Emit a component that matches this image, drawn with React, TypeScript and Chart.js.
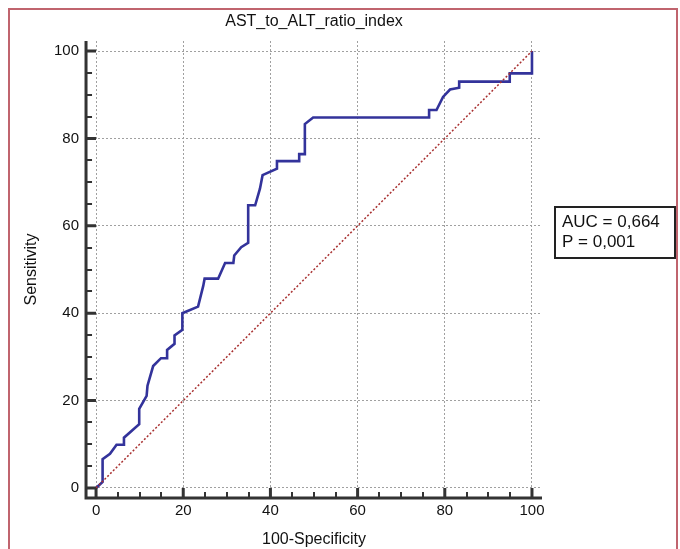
import React, { useEffect, useRef } from "react";
import { Chart, registerables } from "chart.js";

Chart.register(...registerables);

const chartTitle = "AST_to_ALT_ratio_index";
const xAxisTitle = "100-Specificity";
const yAxisTitle = "Sensitivity";
const tickValues = [0, 20, 40, 60, 80, 100];
const minorTickValues = [5, 10, 15, 25, 30, 35, 45, 50, 55, 65, 70, 75, 85, 90, 95];
const rocX = [0, 1.5, 1.5, 3.2, 4.7, 6.4, 6.4, 9.9, 9.9, 11.6, 11.8, 13.1, 14.9, 16.3, 16.3, 18.0, 18.0, 19.8, 19.8, 23.4, 24.6, 24.9, 28.0, 29.6, 31.5, 31.7, 33.3, 34.9, 34.9, 36.5, 37.6, 38.2, 41.5, 41.5, 46.6, 46.6, 47.9, 47.9, 49.8, 76.4, 76.4, 78.1, 79.6, 81.2, 83.3, 83.3, 94.9, 94.9, 100, 100];
const rocY = [0, 1.4, 6.6, 7.8, 9.9, 9.9, 11.5, 14.6, 18.1, 21.1, 23.4, 27.9, 29.7, 29.7, 31.6, 33.0, 34.9, 36.2, 40.0, 41.5, 46.3, 47.9, 47.9, 51.5, 51.5, 53.2, 55.1, 56.1, 64.7, 64.7, 68.5, 71.6, 73.1, 74.8, 74.8, 76.4, 76.4, 83.3, 84.8, 84.8, 86.5, 86.5, 89.5, 91.2, 91.6, 93.0, 93.0, 94.9, 94.9, 100];
const diagX = [0, 100];
const diagY = [0, 100];
const statLines = ["AUC = 0,664", "P = 0,001"];

const FONT = "'Liberation Sans', Arial, sans-serif";

const decorPlugin = {
  id: "decor",
  beforeDraw(chart: any) {
    const ctx = chart.ctx;
    ctx.save();
    ctx.strokeStyle = "#c0646e";
    ctx.lineWidth = 2;
    ctx.beginPath();
    ctx.moveTo(9, 560);
    ctx.lineTo(9, 9);
    ctx.lineTo(677, 9);
    ctx.lineTo(677, 560);
    ctx.stroke();
    ctx.restore();
  },
  afterDraw(chart: any) {
    const ctx = chart.ctx;
    const area = chart.chartArea;
    const xs = chart.scales.x;
    const ys = chart.scales.y;
    ctx.save();
    ctx.strokeStyle = "#333333";
    ctx.lineCap = "butt";
    // axis lines
    ctx.lineWidth = 3;
    ctx.beginPath();
    ctx.moveTo(area.left, area.top);
    ctx.lineTo(area.left, area.bottom + 1.5);
    ctx.moveTo(area.left - 1.5, area.bottom);
    ctx.lineTo(area.right, area.bottom);
    ctx.stroke();
    // major ticks
    ctx.lineWidth = 3;
    ctx.beginPath();
    tickValues.forEach((v) => {
      const px = xs.getPixelForValue(v);
      ctx.moveTo(px, area.bottom);
      ctx.lineTo(px, area.bottom - 10);
      const py = ys.getPixelForValue(v);
      ctx.moveTo(area.left, py);
      ctx.lineTo(area.left + 10, py);
    });
    ctx.stroke();
    // minor ticks
    ctx.lineWidth = 2;
    ctx.beginPath();
    minorTickValues.forEach((v) => {
      const px = Math.round(xs.getPixelForValue(v));
      ctx.moveTo(px, area.bottom);
      ctx.lineTo(px, area.bottom - 6);
      const py = Math.round(ys.getPixelForValue(v));
      ctx.moveTo(area.left, py);
      ctx.lineTo(area.left + 6, py);
    });
    ctx.stroke();
    // stats box
    ctx.lineWidth = 2;
    ctx.strokeStyle = "#222222";
    ctx.strokeRect(555, 207, 120, 51);
    ctx.fillStyle = "#111111";
    ctx.font = `17px ${FONT}`;
    ctx.textBaseline = "middle";
    ctx.textAlign = "left";
    ctx.fillText(statLines[0], 562, 222);
    ctx.fillText(statLines[1], 562, 242);
    ctx.restore();
  },
};

export default function App() {
  const canvasRef = useRef<HTMLCanvasElement | null>(null);

  useEffect(() => {
    const canvas = canvasRef.current;
    if (!canvas) return;
    const rocData = rocX.map((x, i) => ({ x, y: rocY[i] }));
    const diagData = diagX.map((x, i) => ({ x, y: diagY[i] }));
    const setTicks = (scale: any) => {
      scale.ticks = tickValues.map((v) => ({ value: v }));
    };
    const chart = new Chart(canvas, {
      type: "scatter",
      data: {
        datasets: [
          {
            data: diagData,
            showLine: true,
            borderColor: "#a83030",
            borderWidth: 1.5,
            borderDash: [2, 2],
            pointRadius: 0,
            fill: false,
          },
          {
            data: rocData,
            showLine: true,
            borderColor: "#33339b",
            borderWidth: 2.6,
            pointRadius: 0,
            tension: 0,
            fill: false,
          },
        ],
      },
      options: {
        animation: false,
        responsive: false,
        devicePixelRatio: 1,
        layout: { padding: { left: 18.4, top: 0, right: 138, bottom: 0 } },
        plugins: {
          legend: { display: false },
          tooltip: { enabled: false },
          title: {
            display: true,
            text: chartTitle,
            fullSize: false,
            color: "#111111",
            font: { family: FONT, size: 16, weight: "normal" },
            padding: { top: 12.4, bottom: 9.4 },
          },
        },
        scales: {
          x: {
            type: "linear",
            min: -2.3,
            max: 102.3,
            afterBuildTicks: setTicks,
            grid: { color: "#a0a0a0", lineWidth: 1, drawTicks: false },
            border: { display: false, dash: [2, 2] },
            ticks: { color: "#111111", padding: 4, font: { family: FONT, size: 15 } },
            title: {
              display: true,
              text: xAxisTitle,
              color: "#111111",
              font: { family: FONT, size: 16 },
              padding: { top: 5.8, bottom: 0 },
            },
          },
          y: {
            type: "linear",
            min: -2.3,
            max: 102.3,
            afterBuildTicks: setTicks,
            grid: { color: "#a0a0a0", lineWidth: 1, drawTicks: false },
            border: { display: false, dash: [2, 2] },
            ticks: { color: "#111111", padding: 7, font: { family: FONT, size: 15 } },
            title: {
              display: true,
              text: yAxisTitle,
              color: "#111111",
              font: { family: FONT, size: 16 },
              padding: { top: 4, bottom: 5.4 },
            },
          },
        },
      },
      plugins: [decorPlugin],
    });
    return () => chart.destroy();
  }, []);

  return (
    <div style={{ position: "absolute", left: 0, top: 0, width: 680, height: 549, background: "#ffffff" }}>
      <canvas ref={canvasRef} width={680} height={549} style={{ display: "block" }} />
    </div>
  );
}
